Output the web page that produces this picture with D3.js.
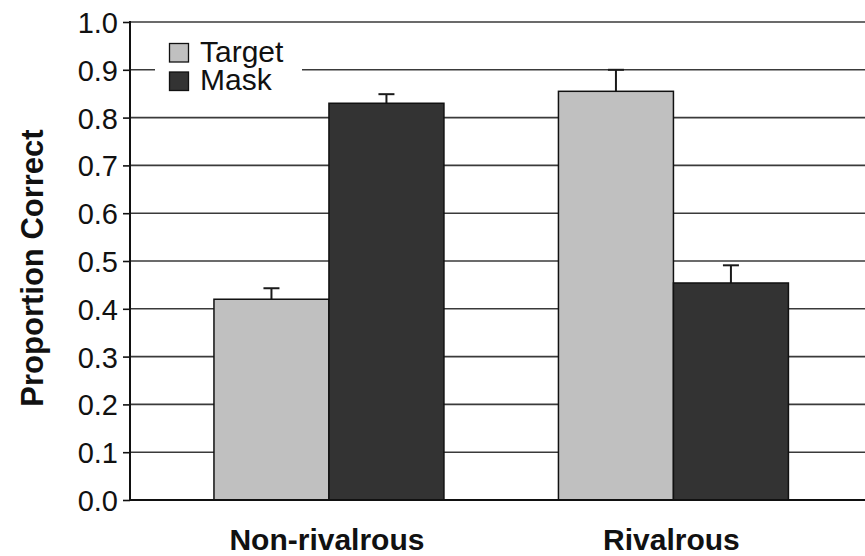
<!DOCTYPE html>
<html>
<head>
<meta charset="utf-8">
<script src="https://cdn.jsdelivr.net/npm/d3@7"></script>
<style>
  html, body { margin: 0; padding: 0; background: #fff; }
  svg { display: block; font-family: "Liberation Sans", Arial, Helvetica, sans-serif; }
</style>
</head>
<body>
<svg id="chart" width="865" height="556"></svg>
<script>
// Proportion correct by condition, with upward standard-error bars
const conditions = ["Non-rivalrous", "Rivalrous"];
const seriesNames = ["Target", "Mask"];
const targetValues = [0.42, 0.855];
const maskValues = [0.83, 0.454];
const targetErrors = [0.023, 0.045];
const maskErrors = [0.019, 0.037];
const yTicks = [0.0, 0.1, 0.2, 0.3, 0.4, 0.5, 0.6, 0.7, 0.8, 0.9, 1.0];
const seriesColors = ["#c0c0c0", "#333333"];

const svg = d3.select("#chart");
const plotLeft = 130, plotRight = 865, plotTop = 22, plotBottom = 500;

const y = d3.scaleLinear().domain([0, 1]).range([plotBottom, plotTop]);
const x = d3.scaleBand().domain(conditions).range([plotLeft, plotRight])
  .paddingInner(0.3324).paddingOuter(0.233).align(0.523);
const xs = d3.scaleBand().domain(seriesNames).range([0, x.bandwidth()]).padding(0);

const rows = conditions.map((c, i) => ({
  cond: c,
  items: [
    { name: seriesNames[0], v: targetValues[i], e: targetErrors[i], color: seriesColors[0] },
    { name: seriesNames[1], v: maskValues[i], e: maskErrors[i], color: seriesColors[1] }
  ]
}));

// horizontal gridlines
svg.append("g").selectAll("line").data(yTicks.filter(t => t > 0)).join("line")
  .attr("x1", plotLeft).attr("x2", plotRight)
  .attr("y1", d => y(d)).attr("y2", d => y(d))
  .attr("stroke", "#3a3a3a").attr("stroke-width", 1.6);

// legend box sits over the 0.9 gridline
const legend = svg.append("g");
legend.append("rect").attr("x", 155).attr("y", 30).attr("width", 147).attr("height", 70).attr("fill", "#fff");
seriesNames.forEach((s, i) => {
  legend.append("rect").attr("x", 169.5).attr("y", 43.5 + i * 28.5).attr("width", 19).attr("height", 18.5)
    .attr("fill", seriesColors[i]).attr("stroke", "#111").attr("stroke-width", 1.3);
});
const legendText = legend.append("text").attr("font-size", 30).attr("fill", "#111");
legendText.selectAll("tspan").data(seriesNames).join("tspan")
  .attr("x", 200).attr("y", (d, i) => 61.5 + i * 28.5).text(d => d);

// bars
const groups = svg.append("g").selectAll("g").data(rows).join("g")
  .attr("transform", d => `translate(${x(d.cond)},0)`);

groups.selectAll("line.err").data(d => d.items).join("line").attr("class", "err")
  .attr("x1", d => xs(d.name) + xs.bandwidth() / 2).attr("x2", d => xs(d.name) + xs.bandwidth() / 2)
  .attr("y1", d => y(d.v)).attr("y2", d => y(d.v + d.e))
  .attr("stroke", "#1a1a1a").attr("stroke-width", 2);
groups.selectAll("line.cap").data(d => d.items).join("line").attr("class", "cap")
  .attr("x1", d => xs(d.name) + xs.bandwidth() / 2 - 8).attr("x2", d => xs(d.name) + xs.bandwidth() / 2 + 8)
  .attr("y1", d => y(d.v + d.e)).attr("y2", d => y(d.v + d.e))
  .attr("stroke", "#1a1a1a").attr("stroke-width", 2);

groups.selectAll("rect").data(d => d.items).join("rect")
  .attr("x", d => xs(d.name)).attr("width", xs.bandwidth())
  .attr("y", d => y(d.v)).attr("height", d => y(0) - y(d.v))
  .attr("fill", d => d.color).attr("stroke", "#111").attr("stroke-width", 1.5);

// y axis
const yAxis = svg.append("g").attr("transform", `translate(${plotLeft},0)`)
  .call(d3.axisLeft(y).tickValues(yTicks).tickFormat(d3.format(".1f")).tickSize(7).tickPadding(5));
yAxis.select(".domain").remove();
yAxis.selectAll(".tick line").attr("stroke", "#111").attr("stroke-width", 1.6);
yAxis.selectAll(".tick text").attr("font-size", 29).attr("fill", "#111")
  .attr("font-family", "'Liberation Sans', Arial, sans-serif").attr("dy", "0.36em");
svg.append("line").attr("x1", plotLeft).attr("x2", plotLeft).attr("y1", plotTop - 1).attr("y2", plotBottom + 1)
  .attr("stroke", "#111").attr("stroke-width", 2);
// baseline
svg.append("line").attr("x1", plotLeft).attr("x2", plotRight).attr("y1", plotBottom).attr("y2", plotBottom)
  .attr("stroke", "#111").attr("stroke-width", 2);

// category labels
svg.append("g").selectAll("text").data(conditions).join("text")
  .attr("x", d => x(d) + x.bandwidth() / 2 - 2).attr("y", 550)
  .attr("text-anchor", "middle").attr("font-size", 30).attr("font-weight", "bold").attr("fill", "#111")
  .text(d => d);

// y title
svg.append("text").attr("transform", "translate(43,268) rotate(-90)")
  .attr("text-anchor", "middle").attr("font-size", 31).attr("font-weight", "bold").attr("fill", "#111")
  .text("Proportion Correct");
</script>
</body>
</html>
